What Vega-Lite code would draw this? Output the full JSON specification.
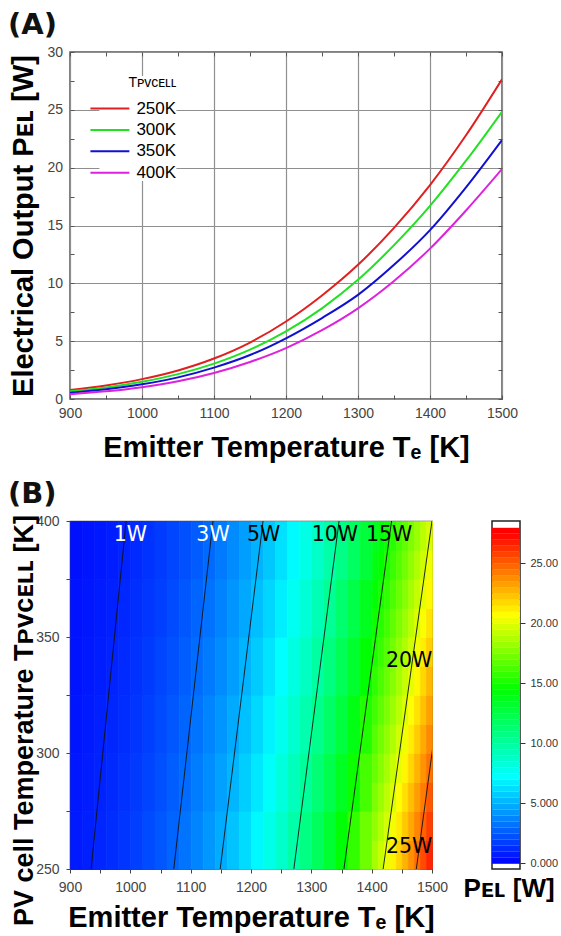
{
"$schema": "https://vega.github.io/schema/vega-lite/v6.json",
"autosize": {"type": "none"},
"padding": {"left": 70, "top": 52, "right": 491, "bottom": 884},
"background": "white",
"bounds": "flush",
"spacing": 122,
"resolve": {"scale": {"color": "independent"}},
"config": {
  "view": {"stroke": null},
  "font": "Liberation Sans",
  "axis": {"domain": false, "labelFont": "Liberation Sans", "labelFontSize": 14, "labelColor": "#444", "titleFont": "Liberation Sans", "titleFontSize": 29, "titleFontWeight": "bold", "titleColor": "#000", "tickColor": "#555", "tickWidth": 1, "gridColor": "#8f8f8f", "gridWidth": 1.2, "labelOverlap": false, "labelFlush": false},
  "title": {"font": "DejaVu Sans", "fontSize": 29, "fontWeight": "bold", "color": "#111", "anchor": "start"}
},
"vconcat": [
{
  "width": 432, "height": 347,
  "title": {"text": "(A)", "frame": "group", "dx": -62, "dy": 30, "offset": 12, "baseline": "alphabetic"},
  "view": {"stroke": "#555", "strokeWidth": 1.5},
  "data": {"values": [
    {"te":900,"s":"250K","p":0.78},{"te":950,"s":"250K","p":1.17},{"te":1000,"s":"250K","p":1.72},{"te":1050,"s":"250K","p":2.47},{"te":1100,"s":"250K","p":3.5},{"te":1150,"s":"250K","p":4.88},{"te":1200,"s":"250K","p":6.7},{"te":1250,"s":"250K","p":8.95},{"te":1300,"s":"250K","p":11.6},{"te":1350,"s":"250K","p":14.8},{"te":1400,"s":"250K","p":18.5},{"te":1450,"s":"250K","p":22.8},{"te":1500,"s":"250K","p":27.64},
    {"te":900,"s":"300K","p":0.66},{"te":950,"s":"300K","p":1.0},{"te":1000,"s":"300K","p":1.49},{"te":1050,"s":"300K","p":2.15},{"te":1100,"s":"300K","p":3.06},{"te":1150,"s":"300K","p":4.27},{"te":1200,"s":"300K","p":5.85},{"te":1250,"s":"300K","p":7.84},{"te":1300,"s":"300K","p":10.3},{"te":1350,"s":"300K","p":13.3},{"te":1400,"s":"300K","p":16.7},{"te":1450,"s":"300K","p":20.6},{"te":1500,"s":"300K","p":24.84},
    {"te":900,"s":"350K","p":0.54},{"te":950,"s":"350K","p":0.84},{"te":1000,"s":"350K","p":1.27},{"te":1050,"s":"350K","p":1.87},{"te":1100,"s":"350K","p":2.71},{"te":1150,"s":"350K","p":3.8},{"te":1200,"s":"350K","p":5.25},{"te":1250,"s":"350K","p":7.0},{"te":1300,"s":"350K","p":9.0},{"te":1350,"s":"350K","p":11.6},{"te":1400,"s":"350K","p":14.6},{"te":1450,"s":"350K","p":18.3},{"te":1500,"s":"350K","p":22.39},
    {"te":900,"s":"400K","p":0.42},{"te":950,"s":"400K","p":0.66},{"te":1000,"s":"400K","p":1.02},{"te":1050,"s":"400K","p":1.53},{"te":1100,"s":"400K","p":2.25},{"te":1150,"s":"400K","p":3.2},{"te":1200,"s":"400K","p":4.4},{"te":1250,"s":"400K","p":5.95},{"te":1300,"s":"400K","p":7.84},{"te":1350,"s":"400K","p":10.2},{"te":1400,"s":"400K","p":13.0},{"te":1450,"s":"400K","p":16.3},{"te":1500,"s":"400K","p":19.88}
  ]},
  "layer": [
    {
      "mark": {"type": "line", "strokeWidth": 2, "clip": true, "interpolate": "monotone"},
      "encoding": {
        "x": {"field": "te", "type": "quantitative",
          "scale": {"domain": [900, 1500], "nice": false, "zero": false},
          "axis": {"orient": "bottom", "values": [900,950,1000,1050,1100,1150,1200,1250,1300,1350,1400,1450,1500], "labelExpr": "datum.value % 100 === 0 ? format(datum.value, 'd') : ''", "tickSize": -4, "labelPadding": 11, "grid": true, "gridOpacity": {"condition": {"test": "datum.value % 100 === 0", "value": 1}, "value": 0}, "title": "Emitter Temperature Tₑ [K]", "titleY": 57, "titleBaseline": "alphabetic"}},
        "y": {"field": "p", "type": "quantitative",
          "scale": {"domain": [0, 30], "nice": false, "zero": false},
          "axis": {"orient": "left", "values": [0,2.5,5,7.5,10,12.5,15,17.5,20,22.5,25,27.5,30], "labelExpr": "datum.value % 5 === 0 ? format(datum.value, 'd') : ''", "tickSize": -4, "labelPadding": 11.5, "grid": true, "gridOpacity": {"condition": {"test": "datum.value % 5 === 0", "value": 1}, "value": 0}, "title": "Electrical Output Pᴇʟ [W]", "titleX": -38, "titleY": 173.5, "titleAngle": 270, "titleAlign": "center", "titleBaseline": "alphabetic"}},
        "color": {"field": "s", "type": "nominal",
          "scale": {"domain": ["250K","300K","350K","400K"], "range": ["#e02020","#22e022","#1010d0","#dd22dd"]},
          "legend": {"orient": "none", "legendX": 29.4, "legendY": 24, "title": "Tᴘᴠᴄᴇʟʟ", "titleFont": "Liberation Sans", "titleFontSize": 14, "titleFontWeight": "normal", "titleColor": "#000", "titlePadding": 8, "titleAnchor": "end", "labelFont": "Liberation Sans", "labelFontSize": 17, "labelColor": "#000", "labelOffset": 16, "symbolType": "M-2.05,0H2.05", "symbolSize": 361, "symbolStrokeWidth": 2, "rowPadding": 2.4, "padding": 0, "fillColor": "white"}}
      }
    },
    {
      "mark": {"type": "point", "opacity": 0},
      "encoding": {
        "x": {"field": "te", "type": "quantitative", "axis": {"orient": "top", "values": [900,950,1000,1050,1100,1150,1200,1250,1300,1350,1400,1450,1500], "labels": false, "tickSize": -4, "grid": false, "title": null}},
        "y": {"field": "p", "type": "quantitative", "axis": {"orient": "right", "values": [0,2.5,5,7.5,10,12.5,15,17.5,20,22.5,25,27.5,30], "labels": false, "tickSize": -4, "grid": false, "title": null}}
      }
    }
  ]
},
{
  "hconcat": [
    {
      "width": 362, "height": 348,
      "title": {"text": "(B)", "frame": "group", "dx": -62, "dy": 30, "offset": 12, "baseline": "alphabetic"},
      "view": {"stroke": "#444", "strokeWidth": 1.2},
      "layer": [
        {
          "data": {"values": [
            {"te":910,"tp":262.5,"p":0.71},{"te":910,"tp":287.5,"p":0.65},{"te":910,"tp":312.5,"p":0.6},{"te":910,"tp":337.5,"p":0.55},{"te":910,"tp":362.5,"p":0.5},{"te":910,"tp":387.5,"p":0.46},
            {"te":930,"tp":262.5,"p":0.87},{"te":930,"tp":287.5,"p":0.8},{"te":930,"tp":312.5,"p":0.73},{"te":930,"tp":337.5,"p":0.67},{"te":930,"tp":362.5,"p":0.62},{"te":930,"tp":387.5,"p":0.57},
            {"te":950,"tp":262.5,"p":1.05},{"te":950,"tp":287.5,"p":0.97},{"te":950,"tp":312.5,"p":0.89},{"te":950,"tp":337.5,"p":0.82},{"te":950,"tp":362.5,"p":0.75},{"te":950,"tp":387.5,"p":0.69},
            {"te":970,"tp":262.5,"p":1.26},{"te":970,"tp":287.5,"p":1.16},{"te":970,"tp":312.5,"p":1.07},{"te":970,"tp":337.5,"p":0.98},{"te":970,"tp":362.5,"p":0.91},{"te":970,"tp":387.5,"p":0.83},
            {"te":990,"tp":262.5,"p":1.5},{"te":990,"tp":287.5,"p":1.38},{"te":990,"tp":312.5,"p":1.28},{"te":990,"tp":337.5,"p":1.18},{"te":990,"tp":362.5,"p":1.09},{"te":990,"tp":387.5,"p":1.0},
            {"te":1010,"tp":262.5,"p":1.77},{"te":1010,"tp":287.5,"p":1.64},{"te":1010,"tp":312.5,"p":1.51},{"te":1010,"tp":337.5,"p":1.4},{"te":1010,"tp":362.5,"p":1.29},{"te":1010,"tp":387.5,"p":1.19},
            {"te":1030,"tp":262.5,"p":2.08},{"te":1030,"tp":287.5,"p":1.93},{"te":1030,"tp":312.5,"p":1.78},{"te":1030,"tp":337.5,"p":1.65},{"te":1030,"tp":362.5,"p":1.53},{"te":1030,"tp":387.5,"p":1.41},
            {"te":1050,"tp":262.5,"p":2.43},{"te":1050,"tp":287.5,"p":2.25},{"te":1050,"tp":312.5,"p":2.09},{"te":1050,"tp":337.5,"p":1.94},{"te":1050,"tp":362.5,"p":1.79},{"te":1050,"tp":387.5,"p":1.66},
            {"te":1070,"tp":262.5,"p":2.82},{"te":1070,"tp":287.5,"p":2.62},{"te":1070,"tp":312.5,"p":2.43},{"te":1070,"tp":337.5,"p":2.26},{"te":1070,"tp":362.5,"p":2.09},{"te":1070,"tp":387.5,"p":1.94},
            {"te":1090,"tp":262.5,"p":3.26},{"te":1090,"tp":287.5,"p":3.03},{"te":1090,"tp":312.5,"p":2.82},{"te":1090,"tp":337.5,"p":2.62},{"te":1090,"tp":362.5,"p":2.43},{"te":1090,"tp":387.5,"p":2.26},
            {"te":1110,"tp":262.5,"p":3.75},{"te":1110,"tp":287.5,"p":3.49},{"te":1110,"tp":312.5,"p":3.24},{"te":1110,"tp":337.5,"p":3.02},{"te":1110,"tp":362.5,"p":2.81},{"te":1110,"tp":387.5,"p":2.61},
            {"te":1130,"tp":262.5,"p":4.28},{"te":1130,"tp":287.5,"p":3.99},{"te":1130,"tp":312.5,"p":3.72},{"te":1130,"tp":337.5,"p":3.46},{"te":1130,"tp":362.5,"p":3.23},{"te":1130,"tp":387.5,"p":3.0},
            {"te":1150,"tp":262.5,"p":4.87},{"te":1150,"tp":287.5,"p":4.54},{"te":1150,"tp":312.5,"p":4.24},{"te":1150,"tp":337.5,"p":3.95},{"te":1150,"tp":362.5,"p":3.69},{"te":1150,"tp":387.5,"p":3.44},
            {"te":1170,"tp":262.5,"p":5.52},{"te":1170,"tp":287.5,"p":5.15},{"te":1170,"tp":312.5,"p":4.81},{"te":1170,"tp":337.5,"p":4.49},{"te":1170,"tp":362.5,"p":4.2},{"te":1170,"tp":387.5,"p":3.92},
            {"te":1190,"tp":262.5,"p":6.22},{"te":1190,"tp":287.5,"p":5.82},{"te":1190,"tp":312.5,"p":5.44},{"te":1190,"tp":337.5,"p":5.09},{"te":1190,"tp":362.5,"p":4.75},{"te":1190,"tp":387.5,"p":4.45},
            {"te":1210,"tp":262.5,"p":6.99},{"te":1210,"tp":287.5,"p":6.54},{"te":1210,"tp":312.5,"p":6.12},{"te":1210,"tp":337.5,"p":5.73},{"te":1210,"tp":362.5,"p":5.37},{"te":1210,"tp":387.5,"p":5.02},
            {"te":1230,"tp":262.5,"p":7.82},{"te":1230,"tp":287.5,"p":7.33},{"te":1230,"tp":312.5,"p":6.87},{"te":1230,"tp":337.5,"p":6.44},{"te":1230,"tp":362.5,"p":6.03},{"te":1230,"tp":387.5,"p":5.65},
            {"te":1250,"tp":262.5,"p":8.72},{"te":1250,"tp":287.5,"p":8.18},{"te":1250,"tp":312.5,"p":7.68},{"te":1250,"tp":337.5,"p":7.2},{"te":1250,"tp":362.5,"p":6.75},{"te":1250,"tp":387.5,"p":6.33},
            {"te":1270,"tp":262.5,"p":9.7},{"te":1270,"tp":287.5,"p":9.1},{"te":1270,"tp":312.5,"p":8.55},{"te":1270,"tp":337.5,"p":8.03},{"te":1270,"tp":362.5,"p":7.54},{"te":1270,"tp":387.5,"p":7.08},
            {"te":1290,"tp":262.5,"p":10.74},{"te":1290,"tp":287.5,"p":10.09},{"te":1290,"tp":312.5,"p":9.49},{"te":1290,"tp":337.5,"p":8.92},{"te":1290,"tp":362.5,"p":8.38},{"te":1290,"tp":387.5,"p":7.88},
            {"te":1310,"tp":262.5,"p":11.86},{"te":1310,"tp":287.5,"p":11.16},{"te":1310,"tp":312.5,"p":10.5},{"te":1310,"tp":337.5,"p":9.87},{"te":1310,"tp":362.5,"p":9.29},{"te":1310,"tp":387.5,"p":8.74},
            {"te":1330,"tp":262.5,"p":13.06},{"te":1330,"tp":287.5,"p":12.3},{"te":1330,"tp":312.5,"p":11.58},{"te":1330,"tp":337.5,"p":10.9},{"te":1330,"tp":362.5,"p":10.27},{"te":1330,"tp":387.5,"p":9.67},
            {"te":1350,"tp":262.5,"p":14.33},{"te":1350,"tp":287.5,"p":13.51},{"te":1350,"tp":312.5,"p":12.73},{"te":1350,"tp":337.5,"p":12.0},{"te":1350,"tp":362.5,"p":11.31},{"te":1350,"tp":387.5,"p":10.66},
            {"te":1370,"tp":262.5,"p":15.69},{"te":1370,"tp":287.5,"p":14.8},{"te":1370,"tp":312.5,"p":13.96},{"te":1370,"tp":337.5,"p":13.17},{"te":1370,"tp":362.5,"p":12.43},{"te":1370,"tp":387.5,"p":11.72},
            {"te":1390,"tp":262.5,"p":17.14},{"te":1390,"tp":287.5,"p":16.18},{"te":1390,"tp":312.5,"p":15.27},{"te":1390,"tp":337.5,"p":14.42},{"te":1390,"tp":362.5,"p":13.61},{"te":1390,"tp":387.5,"p":12.85}
          ]},
          "mark": {"type": "rect", "binSpacing": 0, "strokeWidth": 0.7},
          "encoding": {
            "x": {"field": "te", "type": "quantitative", "bin": {"extent": [900, 1500], "step": 20},
              "scale": {"domain": [900, 1500], "nice": false, "zero": false},
              "axis": {"orient": "bottom", "values": [900,950,1000,1050,1100,1150,1200,1250,1300,1350,1400,1450,1500], "labelExpr": "datum.value % 100 === 0 ? format(datum.value, 'd') : ''", "tickSize": 4, "tickColor": "#444", "labelPadding": 7, "grid": false, "title": "Emitter Temperature Tₑ [K]", "titleY": 57.5, "titleBaseline": "alphabetic"}},
            "y": {"field": "tp", "type": "quantitative", "bin": {"extent": [250, 400], "step": 25},
              "scale": {"domain": [250, 400], "nice": false, "zero": false},
              "axis": {"orient": "left", "values": [250,275,300,325,350,375,400], "labelExpr": "datum.value % 50 === 0 ? format(datum.value, 'd') : ''", "tickSize": 4, "tickColor": "#444", "labelPadding": 7, "grid": false, "title": "PV cell Temperature Tᴘᴠᴄᴇʟʟ [K]", "titleX": -38, "titleY": 199, "titleAngle": 270, "titleAlign": "center", "titleBaseline": "alphabetic", "titleFontSize": 27}},
            "color": {"field": "p", "type": "quantitative",
              "scale": {"domain": [0, 7.2, 14.5, 20.7, 27.5], "range": ["#0000ff", "#00ffff", "#00ff00", "#ffff00", "#ff0000"], "clamp": true, "interpolate": "rgb"},
              "legend": null},
            "stroke": {"field": "p", "type": "quantitative",
              "scale": {"domain": [0, 7.2, 14.5, 20.7, 27.5], "range": ["#0000ff", "#00ffff", "#00ff00", "#ffff00", "#ff0000"], "clamp": true, "interpolate": "rgb"},
              "legend": null}
          }
        },
        {
          "data": {"values": [
            {"te":1405,"tp":256.25,"p":18.54},{"te":1405,"tp":268.75,"p":18.02},{"te":1405,"tp":281.25,"p":17.51},{"te":1405,"tp":293.75,"p":17.02},{"te":1405,"tp":306.25,"p":16.54},{"te":1405,"tp":318.75,"p":16.08},{"te":1405,"tp":331.25,"p":15.63},{"te":1405,"tp":343.75,"p":15.19},{"te":1405,"tp":356.25,"p":14.76},{"te":1405,"tp":368.75,"p":14.35},{"te":1405,"tp":381.25,"p":13.95},{"te":1405,"tp":393.75,"p":13.55},
            {"te":1415,"tp":256.25,"p":19.33},{"te":1415,"tp":268.75,"p":18.8},{"te":1415,"tp":281.25,"p":18.27},{"te":1415,"tp":293.75,"p":17.76},{"te":1415,"tp":306.25,"p":17.27},{"te":1415,"tp":318.75,"p":16.79},{"te":1415,"tp":331.25,"p":16.32},{"te":1415,"tp":343.75,"p":15.86},{"te":1415,"tp":356.25,"p":15.42},{"te":1415,"tp":368.75,"p":14.99},{"te":1415,"tp":381.25,"p":14.57},{"te":1415,"tp":393.75,"p":14.17},
            {"te":1425,"tp":256.25,"p":20.15},{"te":1425,"tp":268.75,"p":19.6},{"te":1425,"tp":281.25,"p":19.05},{"te":1425,"tp":293.75,"p":18.53},{"te":1425,"tp":306.25,"p":18.01},{"te":1425,"tp":318.75,"p":17.51},{"te":1425,"tp":331.25,"p":17.03},{"te":1425,"tp":343.75,"p":16.56},{"te":1425,"tp":356.25,"p":16.1},{"te":1425,"tp":368.75,"p":15.65},{"te":1425,"tp":381.25,"p":15.22},{"te":1425,"tp":393.75,"p":14.8},
            {"te":1435,"tp":256.25,"p":20.99},{"te":1435,"tp":268.75,"p":20.42},{"te":1435,"tp":281.25,"p":19.86},{"te":1435,"tp":293.75,"p":19.31},{"te":1435,"tp":306.25,"p":18.78},{"te":1435,"tp":318.75,"p":18.26},{"te":1435,"tp":331.25,"p":17.76},{"te":1435,"tp":343.75,"p":17.27},{"te":1435,"tp":356.25,"p":16.8},{"te":1435,"tp":368.75,"p":16.34},{"te":1435,"tp":381.25,"p":15.89},{"te":1435,"tp":393.75,"p":15.45},
            {"te":1445,"tp":256.25,"p":21.86},{"te":1445,"tp":268.75,"p":21.26},{"te":1445,"tp":281.25,"p":20.68},{"te":1445,"tp":293.75,"p":20.12},{"te":1445,"tp":306.25,"p":19.57},{"te":1445,"tp":318.75,"p":19.03},{"te":1445,"tp":331.25,"p":18.51},{"te":1445,"tp":343.75,"p":18.01},{"te":1445,"tp":356.25,"p":17.52},{"te":1445,"tp":368.75,"p":17.04},{"te":1445,"tp":381.25,"p":16.57},{"te":1445,"tp":393.75,"p":16.12},
            {"te":1455,"tp":256.25,"p":22.74},{"te":1455,"tp":268.75,"p":22.13},{"te":1455,"tp":281.25,"p":21.53},{"te":1455,"tp":293.75,"p":20.94},{"te":1455,"tp":306.25,"p":20.38},{"te":1455,"tp":318.75,"p":19.82},{"te":1455,"tp":331.25,"p":19.29},{"te":1455,"tp":343.75,"p":18.76},{"te":1455,"tp":356.25,"p":18.25},{"te":1455,"tp":368.75,"p":17.76},{"te":1455,"tp":381.25,"p":17.28},{"te":1455,"tp":393.75,"p":16.81},
            {"te":1465,"tp":256.25,"p":23.65},{"te":1465,"tp":268.75,"p":23.02},{"te":1465,"tp":281.25,"p":22.4},{"te":1465,"tp":293.75,"p":21.79},{"te":1465,"tp":306.25,"p":21.21},{"te":1465,"tp":318.75,"p":20.64},{"te":1465,"tp":331.25,"p":20.08},{"te":1465,"tp":343.75,"p":19.54},{"te":1465,"tp":356.25,"p":19.01},{"te":1465,"tp":368.75,"p":18.5},{"te":1465,"tp":381.25,"p":18.0},{"te":1465,"tp":393.75,"p":17.52},
            {"te":1475,"tp":256.25,"p":24.59},{"te":1475,"tp":268.75,"p":23.93},{"te":1475,"tp":281.25,"p":23.29},{"te":1475,"tp":293.75,"p":22.67},{"te":1475,"tp":306.25,"p":22.06},{"te":1475,"tp":318.75,"p":21.47},{"te":1475,"tp":331.25,"p":20.9},{"te":1475,"tp":343.75,"p":20.34},{"te":1475,"tp":356.25,"p":19.79},{"te":1475,"tp":368.75,"p":19.26},{"te":1475,"tp":381.25,"p":18.75},{"te":1475,"tp":393.75,"p":18.25},
            {"te":1485,"tp":256.25,"p":25.54},{"te":1485,"tp":268.75,"p":24.86},{"te":1485,"tp":281.25,"p":24.2},{"te":1485,"tp":293.75,"p":23.56},{"te":1485,"tp":306.25,"p":22.93},{"te":1485,"tp":318.75,"p":22.32},{"te":1485,"tp":331.25,"p":21.73},{"te":1485,"tp":343.75,"p":21.15},{"te":1485,"tp":356.25,"p":20.59},{"te":1485,"tp":368.75,"p":20.04},{"te":1485,"tp":381.25,"p":19.51},{"te":1485,"tp":393.75,"p":18.99},
            {"te":1495,"tp":256.25,"p":26.52},{"te":1495,"tp":268.75,"p":25.82},{"te":1495,"tp":281.25,"p":25.14},{"te":1495,"tp":293.75,"p":24.48},{"te":1495,"tp":306.25,"p":23.83},{"te":1495,"tp":318.75,"p":23.2},{"te":1495,"tp":331.25,"p":22.59},{"te":1495,"tp":343.75,"p":21.99},{"te":1495,"tp":356.25,"p":21.41},{"te":1495,"tp":368.75,"p":20.85},{"te":1495,"tp":381.25,"p":20.3},{"te":1495,"tp":393.75,"p":19.76}
          ]},
          "mark": {"type": "rect", "binSpacing": 0, "strokeWidth": 0.7},
          "encoding": {
            "x": {"field": "te", "type": "quantitative", "bin": {"extent": [1400, 1500], "step": 10}},
            "y": {"field": "tp", "type": "quantitative", "bin": {"extent": [250, 400], "step": 12.5}},
            "color": {"field": "p", "type": "quantitative", "legend": null},
            "stroke": {"field": "p", "type": "quantitative", "legend": null}
          }
        },
        {
          "data": {"values": [
            {"level":"1W","te":935,"tp":250},{"level":"1W","te":993,"tp":400},
            {"level":"3W","te":1072,"tp":250},{"level":"3W","te":1137,"tp":400},
            {"level":"5W","te":1149,"tp":250},{"level":"5W","te":1220,"tp":400},
            {"level":"10W","te":1271,"tp":250},{"level":"10W","te":1346,"tp":400},
            {"level":"15W","te":1354,"tp":250},{"level":"15W","te":1433,"tp":400},
            {"level":"20W","te":1419,"tp":250},{"level":"20W","te":1500,"tp":400},
            {"level":"25W","te":1474,"tp":250},{"level":"25W","te":1500,"tp":300},{"level":"25W","te":1552,"tp":400}
          ]},
          "mark": {"type": "line", "color": "#111", "strokeWidth": 0.9, "clip": true},
          "encoding": {
            "x": {"field": "te", "type": "quantitative"},
            "y": {"field": "tp", "type": "quantitative"},
            "detail": {"field": "level", "type": "nominal"}
          }
        },
        {
          "data": {"values": [
            {"level":"1W","te":1000,"tp":394},
            {"level":"3W","te":1137,"tp":394},
            {"level":"5W","te":1221,"tp":394},
            {"level":"10W","te":1339,"tp":394},
            {"level":"15W","te":1429,"tp":394},
            {"level":"20W","te":1462,"tp":339.5},
            {"level":"25W","te":1462,"tp":259.3}
          ]},
          "mark": {"type": "text", "font": "DejaVu Sans", "fontSize": 20.5, "baseline": "middle", "align": "center"},
          "encoding": {
            "x": {"field": "te", "type": "quantitative"},
            "y": {"field": "tp", "type": "quantitative"},
            "text": {"field": "level", "type": "nominal"},
            "color": {"condition": {"test": "datum.level === '1W' || datum.level === '3W'", "value": "#ffffff"}, "value": "#000000"}
          }
        }
      ]
    },
    {
      "width": 28, "height": 348,
      "view": {"stroke": "#222", "strokeWidth": 1.5},
      "title": {"text": "Pᴇʟ [W]", "orient": "bottom", "anchor": "middle", "frame": "group", "font": "Liberation Sans", "fontSize": 26, "fontWeight": "bold", "color": "#000", "offset": 7, "baseline": "top", "dx": 3},
      "data": {"values": [
        {"v":0.25},{"v":0.75},{"v":1.25},{"v":1.75},{"v":2.25},{"v":2.75},{"v":3.25},{"v":3.75},{"v":4.25},{"v":4.75},
        {"v":5.25},{"v":5.75},{"v":6.25},{"v":6.75},{"v":7.25},{"v":7.75},{"v":8.25},{"v":8.75},{"v":9.25},{"v":9.75},
        {"v":10.25},{"v":10.75},{"v":11.25},{"v":11.75},{"v":12.25},{"v":12.75},{"v":13.25},{"v":13.75},{"v":14.25},{"v":14.75},
        {"v":15.25},{"v":15.75},{"v":16.25},{"v":16.75},{"v":17.25},{"v":17.75},{"v":18.25},{"v":18.75},{"v":19.25},{"v":19.75},
        {"v":20.25},{"v":20.75},{"v":21.25},{"v":21.75},{"v":22.25},{"v":22.75},{"v":23.25},{"v":23.75},{"v":24.25},{"v":24.75},
        {"v":25.25},{"v":25.75},{"v":26.25},{"v":26.75},{"v":27.25},{"v":27.75}
      ]},
      "mark": {"type": "rect", "binSpacing": 0},
      "encoding": {
        "x": {"datum": 0, "type": "quantitative", "scale": {"domain": [0, 1], "nice": false, "zero": false}, "axis": null},
        "x2": {"datum": 1},
        "y": {"field": "v", "type": "quantitative", "bin": {"extent": [0, 28], "step": 0.5},
          "scale": {"domain": [-0.475, 28.525], "nice": false, "zero": false},
          "axis": {"orient": "right", "values": [0,5,10,15,20,25], "labelExpr": "datum.value < 10 ? format(datum.value, '.3f') : format(datum.value, '.2f')", "tickSize": 5, "tickColor": "#333", "labelPadding": 5, "labelFontSize": 11, "labelColor": "#333", "grid": false, "title": null}},
        "color": {"field": "v", "type": "quantitative",
          "scale": {"domain": [0, 7.2, 14.5, 20.7, 27.5], "range": ["#0000ff", "#00ffff", "#00ff00", "#ffff00", "#ff0000"], "clamp": true, "interpolate": "rgb"},
          "legend": null}
      }
    }
  ],
  "spacing": 60,
  "bounds": "flush"
}
]
}
